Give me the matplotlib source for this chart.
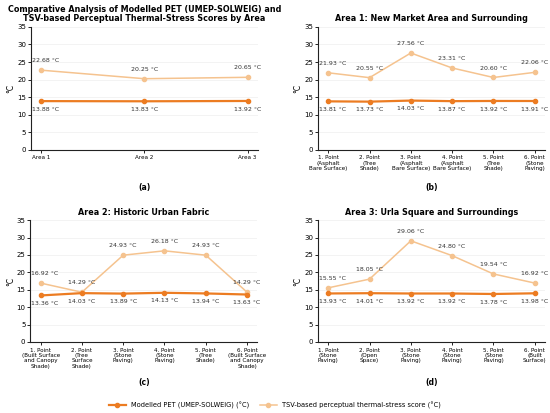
import matplotlib.pyplot as plt
from matplotlib.lines import Line2D

# overview by area
areas = ['Area 1', 'Area 2', 'Area 3']
pet_area = [13.88, 13.83, 13.92]
tsv_area = [22.68, 20.25, 20.65]

# area 1
pts_a1 = ['1. Point\n(Asphalt\nBare Surface)', '2. Point\n(Tree\nShade)', '3. Point\n(Asphalt\nBare Surface)',
          '4. Point\n(Asphalt\nBare Surface)', '5. Point\n(Tree\nShade)', '6. Point\n(Stone\nPaving)']
pet_a1 = [13.81, 13.73, 14.03, 13.87, 13.92, 13.91]
tsv_a1 = [21.93, 20.55, 27.56, 23.31, 20.60, 22.06]

# area 2
pts_a2 = ['1. Point\n(Built Surface\nand Canopy\nShade)', '2. Point\n(Tree\nSurface\nShade)', '3. Point\n(Stone\nPaving)',
          '4. Point\n(Stone\nPaving)', '5. Point\n(Tree\nShade)', '6. Point\n(Built Surface\nand Canopy\nShade)']
pet_a2 = [13.36, 14.03, 13.89, 14.13, 13.94, 13.63]
tsv_a2 = [16.92, 14.29, 24.93, 26.18, 24.93, 14.29]

# area 3
pts_a3 = ['1. Point\n(Stone\nPaving)', '2. Point\n(Open\nSpace)', '3. Point\n(Stone\nPaving)',
          '4. Point\n(Stone\nPaving)', '5. Point\n(Stone\nPaving)', '6. Point\n(Built\nSurface)']
pet_a3 = [13.93, 14.01, 13.92, 13.92, 13.78, 13.98]
tsv_a3 = [15.55, 18.05, 29.06, 24.80, 19.54, 16.92]

pet_col = '#ec7c22'
tsv_col = '#f5c38f'

fig = plt.figure(figsize=(5.5, 4.13), dpi=100)

panels = [
    ([0.056, 0.637, 0.413, 0.298], areas, pet_area, tsv_area,
     'Comparative Analysis of Modelled PET (UMEP-SOLWEIG) and\nTSV-based Perceptual Thermal-Stress Scores by Area', '(a)', 0.1, 0.090),
    ([0.578, 0.637, 0.413, 0.298], pts_a1, pet_a1, tsv_a1, 'Area 1: New Market Area and Surrounding', '(b)', 0.25, 0.090),
    ([0.055, 0.172, 0.413, 0.295], pts_a2, pet_a2, tsv_a2, 'Area 2: Historic Urban Fabric', '(c)', 0.25, 0.097),
    ([0.578, 0.172, 0.413, 0.295], pts_a3, pet_a3, tsv_a3, 'Area 3: Urla Square and Surroundings', '(d)', 0.25, 0.097),
]

for rect, labels, pet, tsv, title, tag, pad, tag_off in panels:
    ax = fig.add_axes(rect)
    x = list(range(len(labels)))
    ax.plot(x, tsv, color=tsv_col, marker='o', ms=3, lw=1.1, zorder=3)
    ax.plot(x, pet, color=pet_col, marker='o', ms=3, lw=1.6, zorder=4)
    for xi, v in zip(x, tsv):
        dx = 3 if xi == 0 else 0
        ax.annotate(f'{v:.2f} °C', (xi, v), xytext=(dx, 5), textcoords='offset points',
                    ha='center', va='bottom', fontsize=4.5, color='#333333')
    for xi, v in zip(x, pet):
        dx = 3 if xi == 0 else 0
        ax.annotate(f'{v:.2f} °C', (xi, v), xytext=(dx, -4), textcoords='offset points',
                    ha='center', va='top', fontsize=4.5, color='#333333')
    ax.set_ylim(0, 35)
    ax.set_yticks(range(0, 36, 5))
    ax.set_xlim(-pad, len(labels) - 1 + pad)
    ax.set_xticks(x)
    ax.set_xticklabels(labels, fontsize=4.1, linespacing=1.1)
    ax.tick_params(axis='y', labelsize=5, length=2, width=0.6, pad=1.5)
    ax.tick_params(axis='x', length=2, width=0.6, pad=2)
    ax.set_ylabel('°C', fontsize=5.5, labelpad=1)
    ax.grid(axis='y', color='#eeeeee', lw=0.5)
    ax.set_axisbelow(True)
    for s in ['top', 'right']:
        ax.spines[s].set_visible(False)
    for s in ['left', 'bottom']:
        ax.spines[s].set_linewidth(0.8)
        ax.spines[s].set_color('#222222')
    ax.set_title(title, fontsize=5.8, fontweight='bold', pad=4, linespacing=1.0)
    cx = rect[0] + rect[2] / 2
    fig.text(cx, rect[1] - tag_off, tag, ha='center', va='center', fontsize=5.5, fontweight='bold')

handles = [
    Line2D([], [], color=pet_col, marker='o', ms=3, lw=1.6),
    Line2D([], [], color=tsv_col, marker='o', ms=3, lw=1.1),
]
fig.legend(handles, ['Modelled PET (UMEP-SOLWEIG) (°C)', 'TSV-based perceptual thermal-stress score (°C)'],
           loc='center', bbox_to_anchor=(0.5, 0.019), ncol=2, frameon=False, fontsize=4.8,
           handlelength=2.5, handletextpad=0.8, columnspacing=1.6)

fig.savefig('out.png', dpi=100)
